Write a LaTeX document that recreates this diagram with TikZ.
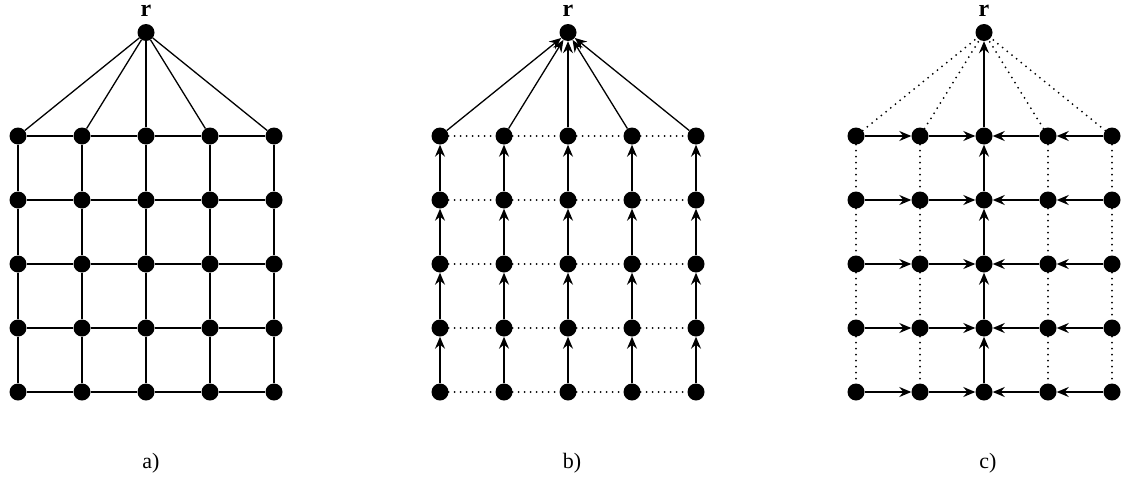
\documentclass[tikz,border=0pt]{standalone}
\usepackage{fontspec}
\setmainfont{Liberation Serif}
\usetikzlibrary{arrows.meta}
\begin{document}
\begin{tikzpicture}[x=1pt,y=-1pt,
  dot/.style={circle,fill=black,draw=none,inner sep=0pt,minimum size=17pt},
  edge/.style={line width=1.3pt},
  dotedge/.style={line width=2pt,dash pattern=on 0pt off 6pt,line cap=round},
  arr/.style={edge,-{Stealth[length=12pt,width=10pt,inset=4pt]}},
  lbl/.style={font=\fontsize{22}{26}\selectfont},
  rlbl/.style={font=\bfseries\fontsize{24}{28}\selectfont}]
\useasboundingbox (0,0) rectangle (1126,479);
\foreach \p/\cx in {a/146,b/568,c/984} {
  \node[dot] (\p-r) at (\cx,32.5) {};
  \node[rlbl] (\p-rl) at (\cx,11) {r};
  \foreach \i in {1,...,5} {
    \foreach \j in {1,...,5} {
      \node[dot] (\p-\i-\j) at ({\cx+(\i-3)*64},{136+(\j-1)*64}) {};
    }
  }
}
\node[lbl] (la) at (151,463) {a)};
\node[lbl] (lb) at (572,463) {b)};
\node[lbl] (lc) at (988,463) {c)};
% panel a
\foreach \i in {1,...,5} {
  \draw[edge] (a-r) -- (a-\i-1);
  \foreach \j/\k in {1/2,2/3,3/4,4/5} {
    \draw[edge] (a-\i-\j) -- (a-\i-\k);
    \draw[edge] (a-\j-\i) -- (a-\k-\i);
  }
}
% panel b
\foreach \i in {1,...,5} {
  \draw[arr] (b-\i-1) -- (b-r);
  \foreach \j/\k in {1/2,2/3,3/4,4/5} {
    \draw[arr] (b-\i-\k) -- (b-\i-\j);
    \draw[dotedge] (b-\j-\i) -- (b-\k-\i);
  }
}
% panel c
\foreach \i in {1,2,4,5} {
  \draw[dotedge] (c-\i-1) -- (c-r);
  \foreach \j/\k in {1/2,2/3,3/4,4/5} {
    \draw[dotedge] (c-\i-\j) -- (c-\i-\k);
  }
}
\draw[arr] (c-3-1) -- (c-r);
\foreach \j/\k in {1/2,2/3,3/4,4/5} {
  \draw[arr] (c-3-\k) -- (c-3-\j);
}
\foreach \j in {1,...,5} {
  \draw[arr] (c-1-\j) -- (c-2-\j);
  \draw[arr] (c-2-\j) -- (c-3-\j);
  \draw[arr] (c-5-\j) -- (c-4-\j);
  \draw[arr] (c-4-\j) -- (c-3-\j);
}
\end{tikzpicture}
\end{document}
